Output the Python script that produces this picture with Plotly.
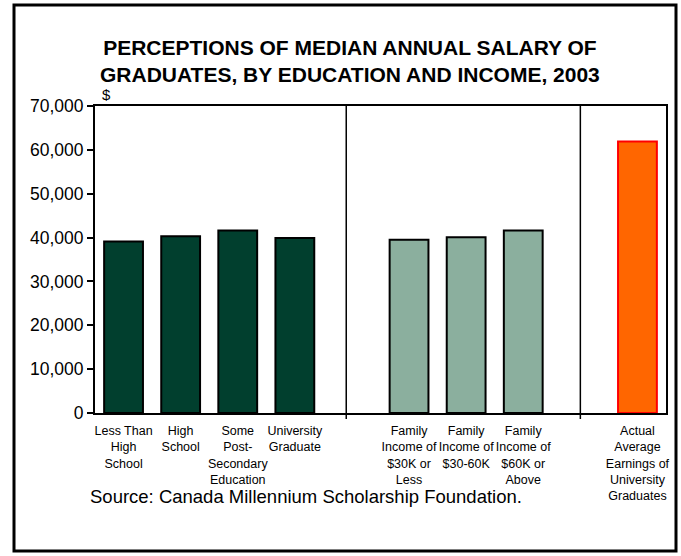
import plotly.graph_objects as go

# Perceived median annual salary by respondent group, plus actual earnings
edu_labels = ["Less Than<br>High<br>School", "High<br>School",
              "Some<br>Post-<br>Secondary<br>Education", "University<br>Graduate"]
edu_values = [39100, 40300, 41600, 39900]

inc_labels = ["Family<br>Income of<br>$30K or<br>Less", "Family<br>Income of<br>$30-60K",
              "Family<br>Income of<br>$60K or<br>Above"]
inc_values = [39500, 40100, 41600]

act_labels = ["Actual<br>Average<br>Earnings of<br>University<br>Graduates"]
act_values = [61900]

y_ticks = [0, 10000, 20000, 30000, 40000, 50000, 60000, 70000]

W, H = 681, 556
L, R, T, B = 95, 15, 106, 143

# slot positions: education 0-3, gap, income 5-7, gap, actual 9
edu_x = [0.5, 1.5, 2.5, 3.5]
inc_x = [5.5, 6.5, 7.5]
act_x = [9.5]
sep_x = [4.4, 8.5]

fig = go.Figure()
fig.add_bar(x=edu_x, y=edu_values, width=0.68,
            marker=dict(color="#013F2E", line=dict(color="black", width=2)))
fig.add_bar(x=inc_x, y=inc_values, width=0.68,
            marker=dict(color="#8BAF9E", line=dict(color="black", width=2)))
fig.add_bar(x=act_x, y=act_values, width=0.68,
            marker=dict(color="#FF6600", line=dict(color="#FF0000", width=2)))

pw = W - L - R
ph = H - T - B


def px_x(p):
    return (p - L) / pw


def px_y(p):
    return (H - B - p) / ph


shapes = []
# vertical separators between groups, poking just below the axis
for sx in sep_x:
    shapes.append(dict(type="line", xref="x", yref="paper", x0=sx, x1=sx,
                       y0=px_y(419), y1=1, line=dict(color="black", width=1.5)))
# outer frame around the whole chart
shapes.append(dict(type="rect", xref="paper", yref="paper",
                   x0=px_x(14), x1=px_x(676), y0=px_y(551), y1=px_y(5),
                   line=dict(color="black", width=3)))

fig.update_layout(
    width=W, height=H,
    margin=dict(l=L, r=R, t=T, b=B),
    paper_bgcolor="white", plot_bgcolor="white",
    showlegend=False,
    font=dict(family="Arial, Liberation Sans, sans-serif", color="black"),
    shapes=shapes,
    annotations=[
        dict(text="<b>PERCEPTIONS OF MEDIAN ANNUAL SALARY OF<br>GRADUATES, BY EDUCATION AND INCOME, 2003</b>",
             xref="paper", yref="paper", x=px_x(350), y=px_y(34),
             xanchor="center", yanchor="top", showarrow=False,
             font=dict(size=21)),
        dict(text="$", xref="paper", yref="paper", x=px_x(106), y=px_y(105),
             xanchor="center", yanchor="bottom", showarrow=False,
             font=dict(size=15)),
        dict(text="Source: Canada Millennium Scholarship Foundation.",
             xref="paper", yref="paper", x=px_x(88), y=px_y(496),
             xanchor="left", yanchor="middle", showarrow=False,
             font=dict(size=18.5)),
    ],
)

fig.update_xaxes(range=[0, 10], tickmode="array",
                 tickvals=edu_x + inc_x + act_x,
                 ticktext=edu_labels + inc_labels + act_labels,
                 ticks="", showgrid=False, zeroline=False,
                 showline=True, linecolor="black", linewidth=2, mirror=True,
                 tickfont=dict(size=12.5), tickangle=0, ticklabelstandoff=5)
fig.update_yaxes(range=[0, 70000], tickmode="array", tickvals=y_ticks,
                 tickformat=",d", ticks="outside", ticklen=6, tickwidth=2,
                 tickcolor="black", showgrid=False, zeroline=False,
                 showline=True, linecolor="black", linewidth=2, mirror=True,
                 tickfont=dict(size=17.5))

fig.write_html("out.html")
